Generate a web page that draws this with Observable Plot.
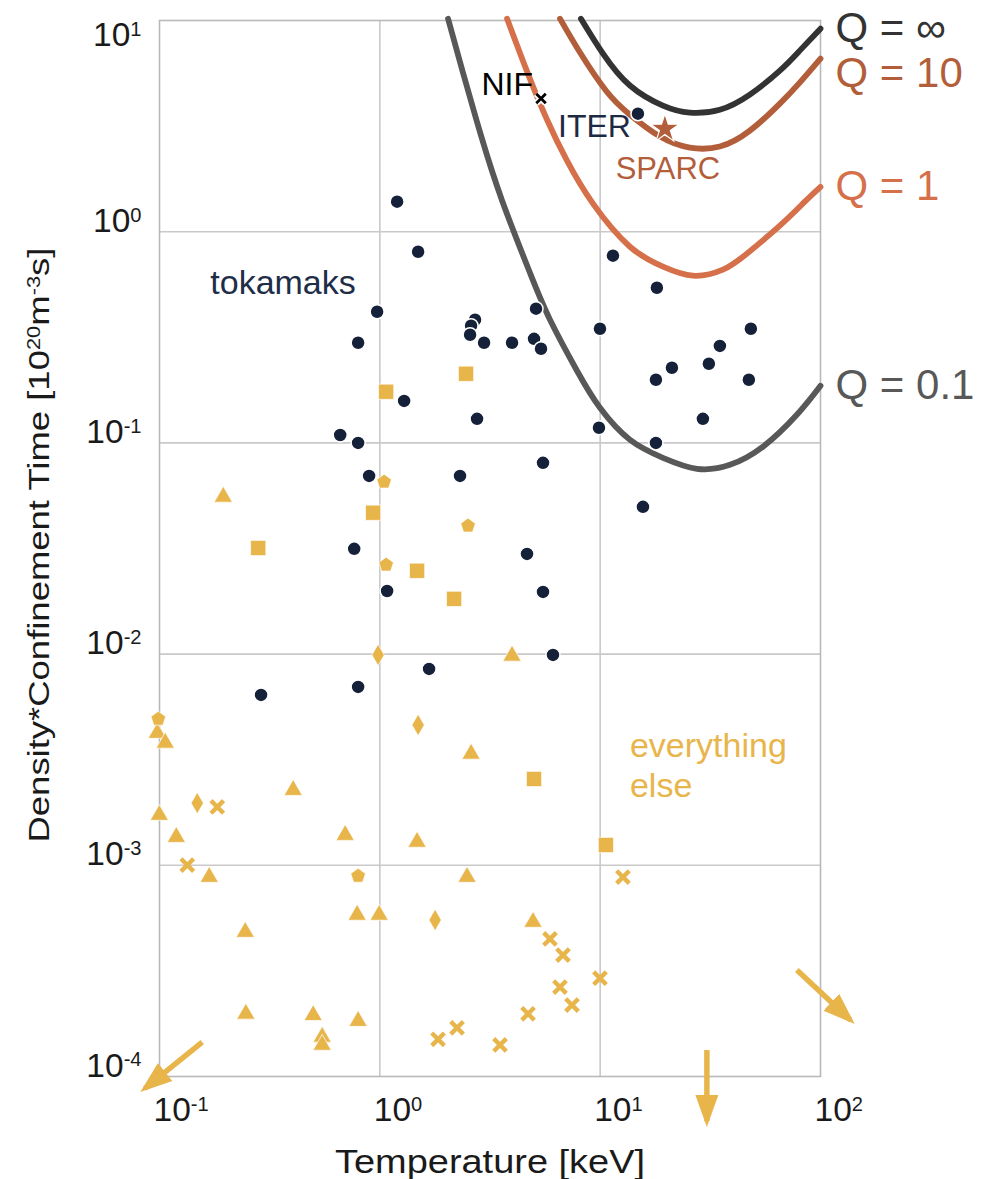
<!DOCTYPE html>
<html>
<head>
<meta charset="utf-8">
<script src="https://cdn.jsdelivr.net/npm/d3@7"></script>
<script src="https://cdn.jsdelivr.net/npm/@observablehq/plot@0.6"></script>
<style>
html,body{margin:0;padding:0;background:#fff;}
#chart svg{display:block;}
</style>
</head>
<body>
<div id="chart"></div>
<script>
// ---------------- data ----------------
const xTicks = [0.1, 1, 10, 100];
const xTickLabels = ["10^{-1}", "10^{0}", "10^{1}", "10^{2}"];
const yTicks = [1e-4, 1e-3, 1e-2, 1e-1, 1, 10];
const yTickLabels = ["10^{-4}", "10^{-3}", "10^{-2}", "10^{-1}", "10^{0}", "10^{1}"];
const xLabel = "Temperature [keV]";
const yLabel = "Density*Confinement Time [10^{20}m^{-3}s]";

// Q curves (temperature keV, n*tau 1e20 m^-3 s)
const qNames = ["Q = ∞", "Q = 10", "Q = 1", "Q = 0.1"];
const qInfT  = [8.18, 10.3, 13.65, 19.27, 25.5, 34.9, 47.8, 65.4, 80.5, 100];
const qInfNT = [10.2, 6.97, 4.92, 3.95, 3.66, 3.78, 4.46, 5.79, 7.20, 9.15];
const q10T   = [6.57, 8.10, 10.7, 13.65, 18.7, 25.5, 34.9, 47.8, 65.4, 80.5, 100];
const q10NT  = [10.2, 7.05, 4.61, 3.58, 2.82, 2.50, 2.53, 3.01, 4.04, 5.08, 6.60];
const q1T    = [3.78, 4.66, 5.74, 7.07, 9.28, 13.65, 19.27, 26.36, 36.06, 46.3, 65.4, 84.9, 100];
const q1NT   = [10.2, 5.73, 3.39, 2.17, 1.357, 0.849, 0.683, 0.619, 0.661, 0.787, 1.068, 1.387, 1.63];
const q01T   = [2.04, 2.39, 2.88, 3.59, 4.80, 5.92, 7.85, 9.98, 13.65, 19.27, 27.48, 38.8, 54.7, 78.1, 100];
const q01NT  = [10.2, 5.61, 2.85, 1.403, 0.639, 0.383, 0.2196, 0.1466, 0.1034, 0.0850, 0.0754, 0.0787, 0.0958, 0.1359, 0.1865];

// tokamaks
const tokT  = [1.198, 1.492, 0.972, 0.797, 1.289, 0.661, 0.797, 0.894, 0.765, 1.079, 0.289, 0.797, 1.673, 2.312, 5.503, 4.656, 5.503, 6.107, 2.762, 9.876, 17.91, 29.26, 15.64, 11.43, 5.115, 2.705, 2.595, 2.568, 2.972, 3.981, 5.010, 5.389, 9.98, 18.09, 48.3, 34.94, 31.14, 21.17, 17.91, 47.3, 14.84];
const tokNT = [1.387, 0.804, 0.418, 0.298, 0.158, 0.109, 0.100, 0.0698, 0.0315, 0.0199, 0.00641, 0.00699, 0.00851, 0.0698, 0.0805, 0.0298, 0.0197, 0.00991, 0.130, 0.118, 0.100, 0.130, 0.0498, 0.770, 0.432, 0.383, 0.359, 0.325, 0.298, 0.298, 0.311, 0.279, 0.347, 0.543, 0.347, 0.288, 0.237, 0.227, 0.199, 0.199, 3.62];

// everything else
const triT  = [0.1947, 0.0977, 0.1062, 0.4044, 0.0998, 0.1192, 0.1682, 0.696, 1.476, 0.245, 0.789, 0.993, 0.2466, 0.4983, 0.5474, 0.5474, 0.797, 2.488, 4.958, 2.595, 3.981];
const triNT = [0.0555, 0.00423, 0.00380, 0.00227, 0.00173, 0.00136, 0.000880, 0.00139, 0.00129, 0.000483, 0.000582, 0.000582, 0.000198, 0.000195, 0.000154, 0.000141, 0.000183, 0.000880, 0.000539, 0.00337, 0.00981];
const sqT   = [1.068, 2.462, 0.2806, 0.932, 1.476, 2.173, 5.01, 10.62];
const sqNT  = [0.1746, 0.2125, 0.0318, 0.0467, 0.0248, 0.01826, 0.002563, 0.001248];
const pentT  = [1.046, 1.068, 2.514, 0.0988, 0.797];
const pentNT = [0.0654, 0.02646, 0.0405, 0.00493, 0.000890];
const diaT  = [0.982, 1.492, 0.1484, 1.782];
const diaNT = [0.00991, 0.00462, 0.00197, 0.000551];
const crossT  = [0.1829, 0.1337, 12.69, 5.92, 6.78, 6.57, 7.45, 9.98, 4.706, 2.241, 1.838, 3.512];
const crossNT = [0.00189, 0.001003, 0.000880, 0.000448, 0.000376, 0.000265, 0.000218, 0.000292, 0.000198, 0.000170, 0.000150, 0.000141];

// off-chart arrows (start -> end)
const arrowT1  = [0.1563, 30.5, 78.1];
const arrowNT1 = [1.455e-4, 1.334e-4, 3.19e-4];
const arrowT2  = [0.0859, 30.5, 136.6];
const arrowNT2 = [8.79e-5, 6.15e-5, 1.852e-4];

// named machines
const machines  = ["NIF", "ITER", "SPARC"];
const machineT  = [5.39, 14.84, 19.67];
const machineNT = [4.27, 3.62, 3.07];

// region labels
const regionLabels = ["tokamaks", "everything", "else"];
const regionT  = [0.170, 13.65, 13.65];
const regionNT = [0.508, 0.00326, 0.002106];

// ---------------- styles ----------------
const FONT = "'Liberation Sans', Arial, Helvetica, sans-serif";
const NAVY = "#142139", GOLD = "#e8b54b";
const Q_COLORS = ["#333333", "#b35e3a", "#d5704a", "#585858"];
const GRID = "#c9c9c9";

const pts = (T, N) => T.map((t, i) => ({t, nt: N[i]}));
const curves = [pts(qInfT, qInfNT), pts(q10T, q10NT), pts(q1T, q1NT), pts(q01T, q01NT)];
const arrows = arrowT1.map((t, i) => ({x1: t, y1: arrowNT1[i], x2: arrowT2[i], y2: arrowNT2[i]}));

const pentagon = {
  draw(context, size) {
    const R = Math.sqrt(size / 2.3776);
    for (let k = 0; k < 5; k++) {
      const a = -Math.PI / 2 + k * 2 * Math.PI / 5;
      const x = R * Math.cos(a), y = R * Math.sin(a);
      if (k) context.lineTo(x, y); else context.moveTo(x, y);
    }
    context.closePath();
  }
};

function headMarker(color) {
  const m = d3.create("svg:marker")
    .attr("viewBox", "0 -12 33 24")
    .attr("markerWidth", 33).attr("markerHeight", 24)
    .attr("markerUnits", "userSpaceOnUse")
    .attr("refX", 26).attr("refY", 0)
    .attr("orient", "auto")
    .attr("fill", color).attr("stroke", "none");
  m.append("path").attr("d", "M0,-11.5L32,0L0,11.5Z");
  return m.node();
}

const TICK_FS = 33.5;
const marks = [
  Plot.ruleX([1, 10], {stroke: GRID, strokeWidth: 1.6}),
  Plot.ruleY([1e-3, 1e-2, 1e-1, 1], {stroke: GRID, strokeWidth: 1.6}),
  Plot.frame({stroke: "#b9b9b9", strokeWidth: 1.6}),
  Plot.axisX({ticks: xTicks, tickFormat: d => xTickLabels[xTicks.indexOf(d)], tickSize: 0, tickPadding: 21,
    fontSize: TICK_FS, textAnchor: "start", dx: -6, color: "#1a1a1a", label: null}),
  Plot.axisY({ticks: yTicks.slice(0, 5), tickFormat: d => yTickLabels[yTicks.indexOf(d)], tickSize: 0, tickPadding: 18,
    fontSize: TICK_FS, lineAnchor: "bottom", color: "#1a1a1a", label: null}),
  Plot.axisY({ticks: yTicks.slice(5), tickFormat: d => yTickLabels[yTicks.indexOf(d)], tickSize: 0, tickPadding: 18,
    fontSize: TICK_FS, lineAnchor: "top", dy: 2, color: "#1a1a1a", label: null}),
  Plot.text([xLabel], {frameAnchor: "bottom", lineAnchor: "bottom", dy: 96, fontSize: 34, fill: "#1a1a1a"}),
  Plot.text([yLabel], {frameAnchor: "left", rotate: -90, textAnchor: "start", dx: -120, dy: 294, fontSize: 30, fill: "#1a1a1a"}),
  ...curves.map((c, i) => Plot.line(c, {x: "t", y: "nt", stroke: Q_COLORS[i], strokeWidth: 5.8, curve: "natural"})),
  ...curves.map((c, i) => Plot.text([c[c.length - 1]], {x: "t", y: "nt", text: () => qNames[i], textAnchor: "start",
    dx: 15, dy: i === 1 ? 15 : 0, fontSize: 42, fill: Q_COLORS[i]})),
  Plot.link(arrows, {x1: "x1", y1: "y1", x2: "x2", y2: "y2", stroke: GOLD, strokeWidth: 5.5, markerEnd: headMarker}),
  Plot.dot(pts(triT, triNT), {x: "t", y: "nt", symbol: "triangle", r: 6.8, fill: GOLD, stroke: "white", strokeWidth: 0.7}),
  Plot.dot(pts(sqT, sqNT), {x: "t", y: "nt", symbol: "square", r: 8.6, fill: GOLD, stroke: "white", strokeWidth: 0.7}),
  Plot.dot(pts(pentT, pentNT), {x: "t", y: "nt", symbol: pentagon, r: 6.7, fill: GOLD, stroke: "white", strokeWidth: 0.7}),
  Plot.dot(pts(diaT, diaNT), {x: "t", y: "nt", symbol: "diamond", r: 6.5, fill: GOLD, stroke: "white", strokeWidth: 0.7}),
  Plot.dot(pts(crossT, crossNT), {x: "t", y: "nt", symbol: "times", r: 5.8, stroke: GOLD, strokeWidth: 4.4}),
  Plot.dot(pts(tokT, tokNT), {x: "t", y: "nt", r: 7, fill: NAVY, stroke: "white", strokeWidth: 1.5}),
  // NIF marker with halo
  Plot.dot([{t: machineT[0], nt: machineNT[0]}], {x: "t", y: "nt", symbol: "times", r: 4.4, stroke: "white", strokeWidth: 6.5}),
  Plot.dot([{t: machineT[0], nt: machineNT[0]}], {x: "t", y: "nt", symbol: "times", r: 4.4, stroke: "#000", strokeWidth: 2.8}),
  // SPARC star
  Plot.dot([{t: machineT[2], nt: machineNT[2]}], {x: "t", y: "nt", symbol: "star", r: 9, fill: Q_COLORS[1], stroke: "white", strokeWidth: 1.2}),
  Plot.text([0], {x: () => machineT[0], y: () => machineNT[0], text: () => machines[0], textAnchor: "end", lineAnchor: "bottom", dx: -8, dy: -4, fontSize: 32, fill: "#000"}),
  Plot.text([0], {x: () => machineT[1], y: () => machineNT[1], text: () => machines[1], textAnchor: "end", lineAnchor: "bottom", dx: -7, dy: 23, fontSize: 32, fill: "#1c2a44"}),
  Plot.text([0], {x: () => machineT[2], y: () => machineNT[2], text: () => machines[2], textAnchor: "middle", lineAnchor: "bottom", dx: 3, dy: 50, fontSize: 31, fill: Q_COLORS[1]}),
  Plot.text([0], {x: () => regionT[0], y: () => regionNT[0], text: () => regionLabels[0], textAnchor: "start", lineAnchor: "bottom", fontSize: 34, fill: "#1e2d48"}),
  Plot.text([1, 2], {x: i => regionT[i], y: i => regionNT[i], text: i => regionLabels[i], textAnchor: "start", lineAnchor: "bottom", fontSize: 34, fill: GOLD})
];

const chart = Plot.plot({
  width: 982, height: 1179,
  marginTop: 20, marginLeft: 159, marginRight: 162, marginBottom: 103,
  x: {type: "log", domain: [0.1, 100]},
  y: {type: "log", domain: [1e-4, 10]},
  style: {fontFamily: FONT, background: "white", overflow: "visible"},
  marks
});
document.getElementById("chart").appendChild(chart);

// superscripts + stretched labels
const targetLengths = {[xLabel]: 310, [yLabel]: 595};
function supify(el) {
  const s = el.textContent;
  const fs = parseFloat(getComputedStyle(el).fontSize);
  const rise = 0.3 * fs;
  el.textContent = "";
  const re = /\^\{([^}]*)\}/g;
  let last = 0, m, raised = false;
  const add = (txt, sup) => {
    if (!txt) return;
    const ts = document.createElementNS("http://www.w3.org/2000/svg", "tspan");
    ts.textContent = txt;
    if (sup) { ts.setAttribute("font-size", (0.6 * fs).toFixed(1)); if (!raised) ts.setAttribute("dy", -rise); raised = true; }
    else if (raised) { ts.setAttribute("dy", rise); raised = false; }
    el.appendChild(ts);
  };
  while ((m = re.exec(s))) { add(s.slice(last, m.index), false); add(m[1], true); last = re.lastIndex; }
  add(s.slice(last), false);
}
chart.querySelectorAll("text").forEach(t => {
  const s = t.textContent;
  if (s.includes("^{")) supify(t);
  if (targetLengths[s]) { t.setAttribute("textLength", targetLengths[s]); t.setAttribute("lengthAdjust", "spacingAndGlyphs"); }
});
</script>
</body>
</html>
